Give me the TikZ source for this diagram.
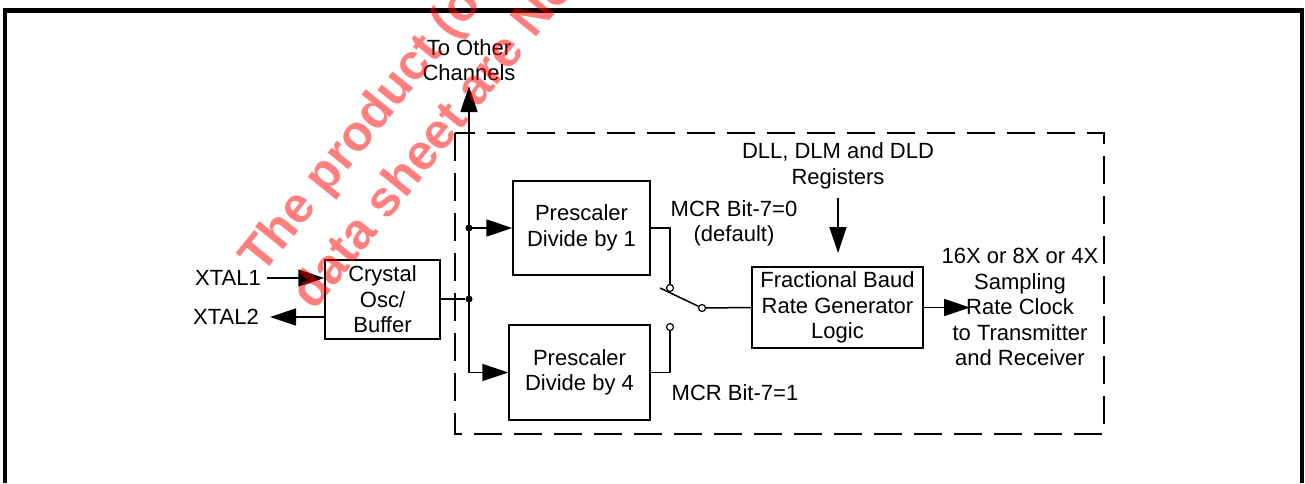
\documentclass[tikz,border=0pt]{standalone}
\usepackage{fontspec}
\setmainfont{Liberation Sans}
\usetikzlibrary{arrows.meta}

\tikzset{
  blk/.style={draw, line width=1.5pt, inner sep=0pt, align=center},
  lbl/.style={inner sep=0pt, align=center},
  wire/.style={line width=1.5pt},
  arr/.style={wire, -{Triangle[length=26pt,width=17pt]}},
  jdot/.style={circle, fill, inner sep=0pt, minimum size=7pt},
  pin/.style={circle, draw, fill=white, line width=1.2pt, inner sep=0pt, minimum size=7pt},
  wmark/.style={anchor=base west, rotate=51, text=red, opacity=0.5, inner sep=0pt,
    font=\bfseries\fontsize{50}{54}\selectfont}
}

\begin{document}
\begin{tikzpicture}[x=1pt,y=-1pt,font=\fontsize{22}{25.5}\selectfont]
\useasboundingbox (0,0) rectangle (1305,483);

% Frame
\draw[line width=4pt] (5,10.5) -- (5,483);
\draw[line width=4pt] (1302,10.5) -- (1302,483);
\draw[line width=5.5pt] (3,10.5) -- (1304,10.5);

% Channel boundary
\draw[line width=1.5pt, dash pattern=on 28pt off 12pt] (455,133) rectangle (1104,434);

% Blocks
\node[blk, minimum width=115pt, minimum height=79pt] (osc) at (382.5,299.5) {Crystal\\Osc/\\Buffer};
\node[blk, minimum width=137pt, minimum height=94pt] (div1) at (581.5,228) {Prescaler\\Divide by 1};
\node[blk, minimum width=141pt, minimum height=95pt] (div4) at (579.5,372.5) {Prescaler\\Divide by 4};
\node[blk, minimum width=171pt, minimum height=81pt] (brg) at (837.5,307.5) {Fractional Baud\\Rate Generator\\Logic};

% Labels
\node[lbl, anchor=east] (xtal1) at (261,278) {XTAL1};
\node[lbl, anchor=east] (xtal2) at (259,317) {XTAL2};
\node[lbl] (other) at (469,60) {To Other\\Channels};
\node[lbl] (regs) at (838,166) {DLL, DLM and DLD\\Registers};
\node[lbl] (clk) at (1020,307) {16X or 8X or 4X\\Sampling\\Rate Clock\\to Transmitter\\and Receiver};
\node[lbl] (mcr0) at (734,223.5) {MCR Bit-7=0\\(default)};
\node[lbl] (mcr1) at (735,393) {MCR Bit-7=1};

% Crystal pins
\draw[arr] ([xshift=6pt]xtal1.east) -- (osc.west |- xtal1.east);
\draw[arr] (osc.west |- xtal2.east) -- ([xshift=11pt]xtal2.east);

% Clock bus
\node[jdot] (j1) at (469,299) {};
\node[jdot] (j2) at (469,228) {};
\coordinate (top) at (469,86);
\draw[wire] (osc.east |- j1) -- (j1);
\draw[arr] (j1.center) -- (top);
\draw[arr] (j1.center) |- (div4.west);
\draw[arr] (j2.center) -- (div1.west);

% Switch
\node[pin] (p1) at (670,288) {};
\node[pin] (p4) at (670,327) {};
\node[pin] (piv) at (702,308) {};
\coordinate (blade) at (660,288);
\draw[wire] (div1.east) -| (p1.north);
\draw[wire] (div4.east) -| (p4.south);
\draw[wire] (blade) -- (piv);
\draw[wire] (piv) -- (brg.west);

% Divisor registers and output
\coordinate (dtop) at (838,198);
\coordinate (dtip) at (838,253);
\draw[arr] (dtop) -- (dtip);
\coordinate (otip) at (970,307.5);
\draw[arr] (brg.east) -- (otip);

% Watermark
\begin{scope}
\clip (0,0) rectangle (1305,483);
\node[wmark] (mark1) at (262,276) {The product (or};
\node[wmark] (mark2) at (314,312) {data sheet are No};
\end{scope}

\end{tikzpicture}
\end{document}
